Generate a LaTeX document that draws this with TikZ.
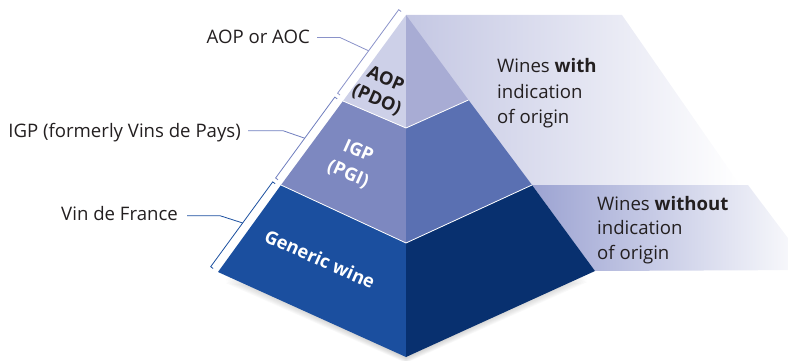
\documentclass[tikz,border=0pt]{standalone}
\usepackage{fontspec}
\setmainfont{Open Sans}
\usetikzlibrary{calc}
\definecolor{txt}{HTML}{231F20}
\definecolor{tOneL}{HTML}{CDD0E8}
\definecolor{tOneR}{HTML}{A8ACD4}
\definecolor{tTwoL}{HTML}{7D88C0}
\definecolor{tTwoR}{HTML}{5A70B2}
\definecolor{tThrL}{HTML}{1B4F9F}
\definecolor{tThrR}{HTML}{08306F}
\definecolor{bandA}{HTML}{C4C7E3}
\definecolor{bandB}{HTML}{9CA3D2}
\definecolor{brOne}{HTML}{8A92C9}
\definecolor{brTwo}{HTML}{6F7EBE}
\definecolor{brThr}{HTML}{1B4F9F}
\tikzset{
  lbl/.style={font=\fontsize{18.6}{25}\selectfont, text=txt, inner sep=0pt},
  pyrlbl/.style={font=\fontsize{18.2}{22}\selectfont\bfseries, inner sep=0pt, align=center, rotate=-24},
  sep/.style={draw=white, line width=0.8pt},
  brk/.style={line width=0.8pt, line join=miter},
}
\begin{document}
\begin{tikzpicture}[x=1pt,y=-1pt]
\useasboundingbox (0,0) rectangle (788,361);
\begin{scope}
\clip (0,0) rectangle (788,361);
% key points
\coordinate (A) at (406,15);
\coordinate (L1) at (343,101);
\coordinate (C1) at (406,128);
\coordinate (R1) at (468.5,100);
\coordinate (L2) at (281,185);
\coordinate (C2) at (406,243);
\coordinate (R2) at (532,185);
\coordinate (L3) at (218,272);
\coordinate (C3) at (406,357);
\coordinate (R3) at (595,271);
% background bands
\shade[left color=bandA, right color=white] (A) -- (622,15) -- (740,185) -- (406,185) -- cycle;
\shade[left color=bandB, right color=white] (R2) -- (748,185) -- (812,270) -- (R3) -- cycle;
% shadow
\foreach \d in {3,5,...,17}
  \fill[black!50, opacity=0.05] ($(L3)+(8,\d*0.65)$) -- ($(C3)+(0,\d*0.35)$) -- ($(R3)+(-8,\d*0.65)$) -- (406,300) -- cycle;
% pyramid faces
\fill[tThrL] (L2) -- (L3) -- (C3) -- (C2) -- cycle;
\fill[tThrR] (C2) -- (C3) -- (R3) -- (R2) -- cycle;
\fill[tTwoL] (L1) -- (L2) -- (C2) -- (C1) -- cycle;
\fill[tTwoR] (C1) -- (C2) -- (R2) -- (R1) -- cycle;
\fill[tOneL] (A) -- (L1) -- (C1) -- cycle;
\fill[tOneR] (A) -- (C1) -- (R1) -- cycle;
\draw[sep] (L1) -- (C1) -- (R1);
\draw[sep] (L2) -- (C2) -- (R2);
\end{scope}
% brackets
\draw[brk, brOne] (401.1,11.5) -- (398.7,9.7) -- (337.6,93.2) -- (340.0,95.0);
\draw[brk, brTwo] (337.2,98.9) -- (334.8,97.1) -- (275.6,178.0) -- (278.0,179.8);
\draw[brk, brThr] (275.1,183.7) -- (272.7,181.9) -- (210.7,266.7) -- (213.1,268.5);
\coordinate (bA) at (368.6,50.8);
\coordinate (bB) at (304.7,138.2);
\coordinate (bC) at (242.7,223.0);
% left labels
\node[lbl, anchor=base east] (aoc) at (310,44) {AOP or AOC};
\node[lbl, anchor=base east] (igp) at (241,137.5) {IGP (formerly Vins de Pays)};
\node[lbl, anchor=base east] (vdf) at (178,220) {Vin de France};
\draw[brk, brOne] (317,37.5) -- (340,37.5) -- (bA);
\draw[brk, brTwo] (248,130.7) -- (283,130.7) -- (bB);
\draw[brk, brThr] (187,215.7) -- (220,215.7) -- (bC);
% pyramid labels
\node[pyrlbl, text=txt] (pdo) at (381,90) {AOP\\(PDO)};
\node[pyrlbl, text=white, font=\fontsize{18.2}{25}\selectfont\bfseries] (pgi) at (353,163) {IGP\\(PGI)};
\node[pyrlbl, text=white] (gen) at (320,259) {Generic wine};
% right texts
\node[lbl, anchor=base west] (w1) at (497,72.7) {Wines \textbf{with}};
\node[lbl, anchor=base west] (w2) at (497,98.5) {indication};
\node[lbl, anchor=base west] (w3) at (497,124) {of origin};
\node[lbl, anchor=base west] (o1) at (597,210) {Wines \textbf{without}};
\node[lbl, anchor=base west] (o2) at (597,234.5) {indication};
\node[lbl, anchor=base west] (o3) at (597,259) {of origin};
\end{tikzpicture}
\end{document}
